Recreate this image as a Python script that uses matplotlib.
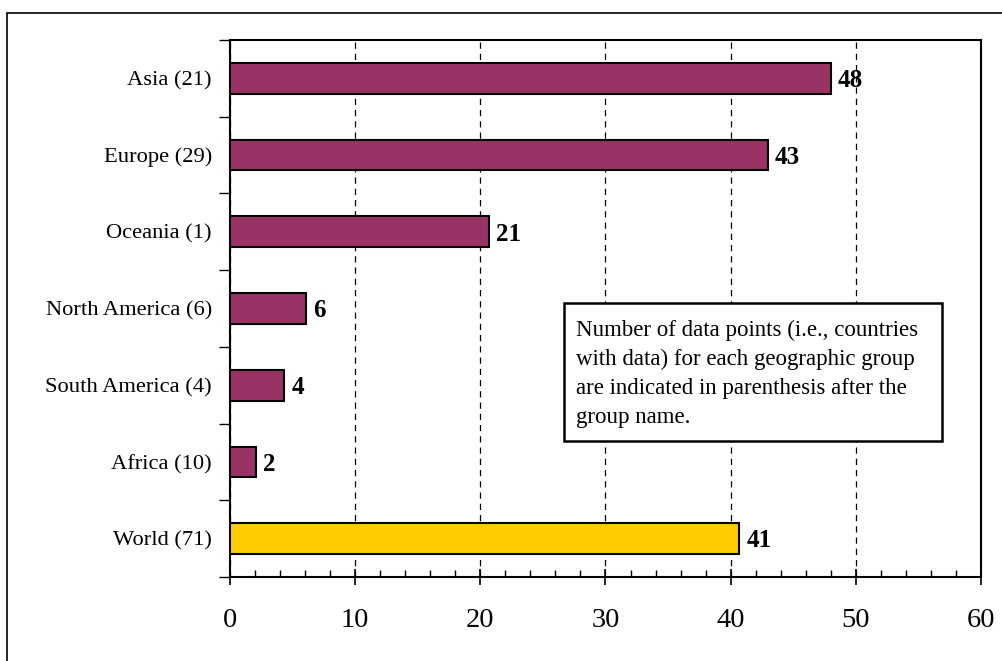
import numpy as np
import matplotlib
matplotlib.use('Agg')
import matplotlib.pyplot as plt
from matplotlib.patches import Rectangle
from matplotlib.ticker import MultipleLocator, FixedLocator, NullFormatter

plt.rcParams['font.family'] = ['Liberation Serif', 'DejaVu Serif']

# groups, top to bottom, with number of countries per group
groups = ['Asia (21)', 'Europe (29)', 'Oceania (1)', 'North America (6)',
          'South America (4)', 'Africa (10)', 'World (71)']
values = [48.0, 43.0, 20.7, 6.1, 4.35, 2.1, 40.7]
colors = ['#993366'] * 6 + ['#FFCC00']

note = ('Number of data points (i.e., countries\n'
        'with data) for each geographic group\n'
        'are indicated in parenthesis after the\n'
        'group name.')

W, H = 1003, 661
fig = plt.figure(figsize=(W / 100, H / 100), dpi=100)
ax = fig.add_axes([230 / W, 1 - 577 / H, (981 - 230) / W, (577 - 40) / H])

ypos = np.arange(len(groups))
ax.barh(ypos, values, height=0.4, color=colors, edgecolor='black',
        linewidth=1.5, zorder=3)
for y, v in zip(ypos, values):
    ax.text(v + 0.55, y + 0.03, f'{v:.0f}', va='center', ha='left',
            fontsize=18, fontweight='bold', zorder=4)

ax.set_xlim(0, 60)
ax.set_ylim(len(groups) - 0.5, -0.5)

# x axis: crossing major ticks, small inward minor ticks
ax.xaxis.set_major_locator(MultipleLocator(10))
ax.xaxis.set_minor_locator(MultipleLocator(2))
ax.tick_params(axis='x', which='major', direction='inout', length=12,
               width=1.2, labelsize=20.5, pad=16)
ax.tick_params(axis='x', which='minor', direction='in', length=5, width=1)

# y axis: ticks between categories, labels at category centres
ax.yaxis.set_major_locator(FixedLocator(np.arange(-0.5, len(groups), 1.0)))
ax.yaxis.set_major_formatter(NullFormatter())
ax.yaxis.set_minor_locator(FixedLocator(ypos))
ax.set_yticklabels(groups, minor=True)
ax.tick_params(axis='y', which='major', direction='out', length=8, width=1)
ax.tick_params(axis='y', which='minor', length=0, labelsize=16.2, pad=13)

ax.xaxis.grid(True, which='major', color='black', linestyle=(0, (5, 4)),
              linewidth=0.9, zorder=0)
ax.set_axisbelow(True)
for sp in ax.spines.values():
    sp.set_linewidth(1.5)

# note box
fig.add_artist(Rectangle((564 / W, 1 - 441 / H), (942 - 564) / W,
                         (441 - 303) / H, transform=fig.transFigure,
                         facecolor='white', edgecolor='black', linewidth=1.8,
                         zorder=5))
fig.text(576 / W, 1 - 320 / H, note, ha='left', va='top', fontsize=16.5,
         linespacing=1.5, zorder=6)

# outer frame
fig.add_artist(Rectangle((7 / W, -0.1), 1.1, 1.1 - 13 / H,
                         transform=fig.transFigure, fill=False,
                         edgecolor='black', linewidth=1.2))

fig.savefig('out.png', dpi=100)
